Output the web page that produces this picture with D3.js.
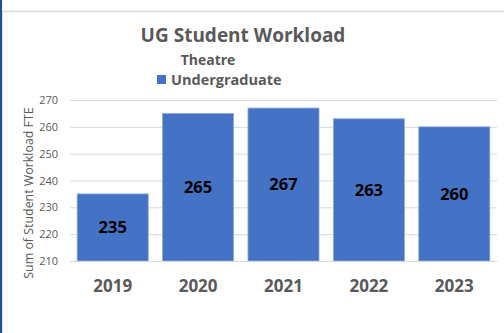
<!DOCTYPE html>
<html>
<head>
<meta charset="utf-8">
<script src="https://cdn.jsdelivr.net/npm/d3@7"></script>
<style>
  html, body { margin: 0; padding: 0; background: #fff; }
  svg { display: block; }
  text { font-family: "Open Sans", "Noto Sans", sans-serif; }
</style>
</head>
<body>
<svg id="chart" width="504" height="333"></svg>
<script>
// Undergraduate student workload (FTE) for Theatre, by year
const years = ["2019", "2020", "2021", "2022", "2023"];
const workload = [235, 265, 267, 263, 260];
const yTicks = [210, 220, 230, 240, 250, 260, 270];

const svg = d3.select("#chart");
const W = 504, H = 333;
const plot = { left: 70, right: 497, top: 100, bottom: 261 };

// outer frame: dark left edge and light top rule
svg.append("rect").attr("x", 0).attr("y", 0).attr("width", 2).attr("height", H).attr("fill", "#1f4e9a");
svg.append("line").attr("x1", 2).attr("x2", W).attr("y1", 11.5).attr("y2", 11.5)
  .attr("stroke", "#d9d9d9").attr("stroke-width", 1.5);
svg.append("line").attr("x1", 2.5).attr("x2", 2.5).attr("y1", 11).attr("y2", H)
  .attr("stroke", "#e3e3e3").attr("stroke-width", 1);

const x = d3.scaleBand().domain(years).range([plot.left, plot.right]).paddingInner(0.168).paddingOuter(0.084);
const y = d3.scaleLinear().domain([210, 270]).range([plot.bottom, plot.top]);

// gridlines
svg.append("g").attr("class", "grid")
  .attr("transform", `translate(${plot.left},0)`)
  .call(d3.axisLeft(y).tickValues(yTicks).tickSize(-(plot.right - plot.left)).tickFormat(""))
  .call(g => g.select(".domain").remove())
  .call(g => g.selectAll("line").attr("stroke", "#d9d9d9").attr("stroke-width", 1));

// y tick labels
svg.append("g")
  .attr("transform", `translate(${plot.left},0)`)
  .call(d3.axisLeft(y).tickValues(yTicks).tickSize(0).tickPadding(12))
  .call(g => g.select(".domain").remove())
  .call(g => g.selectAll("text").attr("fill", "#595959").style("font-size", "11px")
    .style("font-family", "'Open Sans', sans-serif"));

// bars
svg.append("g").selectAll("rect").data(years).join("rect")
  .attr("x", d => x(d))
  .attr("width", x.bandwidth())
  .attr("y", (d, i) => y(workload[i]))
  .attr("height", (d, i) => y(210) - y(workload[i]))
  .attr("fill", "#4472c4")
  .attr("stroke", "#8faadc").attr("stroke-width", 0.8);

// baseline
svg.append("line").attr("x1", plot.left).attr("x2", plot.right)
  .attr("y1", plot.bottom + 0.5).attr("y2", plot.bottom + 0.5)
  .attr("stroke", "#d9d9d9").attr("stroke-width", 1);

// value labels centred in bars
svg.append("g").selectAll("text").data(years).join("text")
  .attr("x", d => x(d) + x.bandwidth() / 2)
  .attr("y", (d, i) => (y(workload[i]) + y(210)) / 2)
  .attr("dy", "0.36em")
  .attr("text-anchor", "middle")
  .attr("fill", "#000")
  .style("font-size", "16.5px").style("font-weight", "bold")
  .text((d, i) => workload[i]);

// x axis labels
svg.append("g")
  .attr("transform", `translate(0,${plot.bottom})`)
  .call(d3.axisBottom(x).tickSize(0).tickPadding(19))
  .call(g => g.select(".domain").remove())
  .call(g => g.selectAll("text").attr("fill", "#595959").style("font-size", "17px")
    .style("font-weight", "bold").style("font-family", "'Open Sans', sans-serif"));

// y axis title
svg.append("text")
  .attr("transform", `translate(33,193) rotate(-90)`)
  .attr("text-anchor", "middle")
  .attr("fill", "#595959")
  .style("font-size", "12.4px")
  .text("Sum of Student Workload FTE");

// title, subtitle, legend
svg.append("text").attr("x", 243).attr("y", 42).attr("text-anchor", "middle")
  .attr("fill", "#595959").style("font-size", "19px").style("font-weight", "bold")
  .text("UG Student Workload");
svg.append("text").attr("x", 208).attr("y", 65).attr("text-anchor", "middle")
  .attr("fill", "#595959").style("font-size", "14px").style("font-weight", "bold")
  .text("Theatre");
svg.append("rect").attr("x", 157).attr("y", 75).attr("width", 9).attr("height", 9).attr("fill", "#4472c4");
svg.append("text").attr("x", 171).attr("y", 85)
  .attr("fill", "#595959").style("font-size", "14.5px").style("font-weight", "bold")
  .text("Undergraduate");
</script>
</body>
</html>
